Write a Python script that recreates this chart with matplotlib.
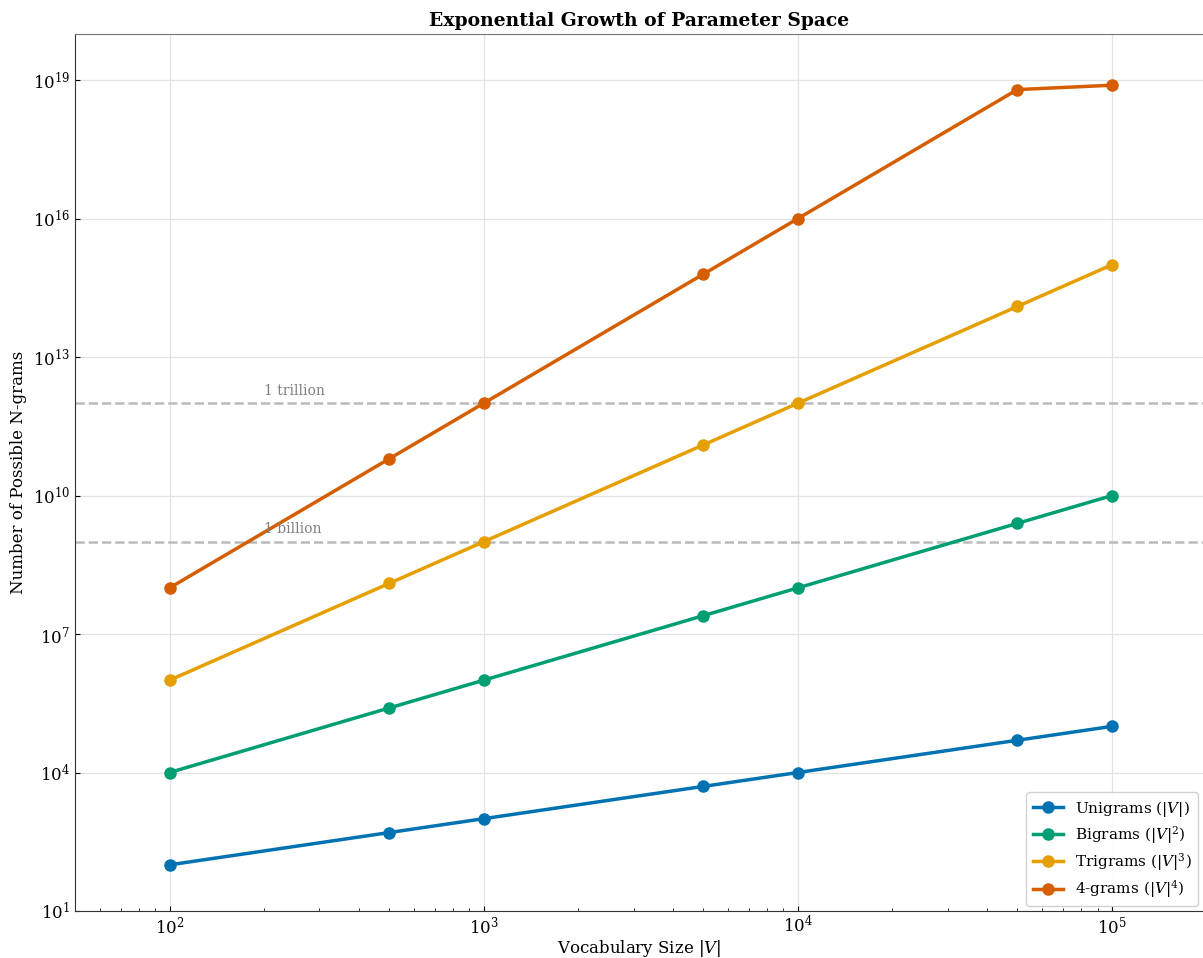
import numpy as np
import matplotlib.pyplot as plt

plt.rcParams['font.family'] = 'DejaVu Serif'
plt.rcParams['mathtext.fontset'] = 'dejavuserif'

vocab = [100, 500, 1000, 5000, 10000, 50000, 100000]
unigrams = [1e2, 5e2, 1e3, 5e3, 1e4, 5e4, 1e5]
bigrams = [1e4, 2.5e5, 1e6, 2.5e7, 1e8, 2.5e9, 1e10]
trigrams = [1e6, 1.25e8, 1e9, 1.25e11, 1e12, 1.25e14, 1e15]
fourgrams = [1e8, 6.25e10, 1e12, 6.25e14, 1e16, 6.25e18, 7.77e18]

labels = ['Unigrams ($|V|$)', 'Bigrams ($|V|^2$)', 'Trigrams ($|V|^3$)', '4-grams ($|V|^4$)']
colors = ['#0072B2', '#009E73', '#E69F00', '#D55E00']

ref_vals = [1e9, 1e12]
ref_text = ['1 billion', '1 trillion']

fig = plt.figure(figsize=(12.03, 9.58), dpi=100)
ax = fig.add_axes([75/1203, 1 - 911/958, 1 - 75/1203, (911 - 34)/958])

for series, lab, c in zip([unigrams, bigrams, trigrams, fourgrams], labels, colors):
    ax.plot(vocab, series, '-o', color=c, lw=2.5, ms=8, label=lab)

for v, t in zip(ref_vals, ref_text):
    ax.axhline(v, color='#bbbbbb', ls='--', lw=1.8, zorder=1)
    ax.text(200, v * 1.3, t, color='gray', fontsize=10, va='bottom')

ax.set_xscale('log')
ax.set_yscale('log')
ax.set_xlim(50, 1.95e5)
ax.set_ylim(10, 1e20)
ax.set_yticks([10.0**k for k in range(1, 20, 3)])
ax.yaxis.set_minor_locator(plt.NullLocator())

ax.grid(True, color='#e3e3e3', lw=0.9)
ax.set_axisbelow(True)
ax.tick_params(direction='in', labelsize=12)
ax.tick_params(axis='x', pad=3)
ax.tick_params(which='minor', direction='in')
ax.spines['top'].set_color('#777777')
ax.spines['right'].set_visible(False)
ax.spines['left'].set_color('#333333')
ax.spines['bottom'].set_color('#333333')

ax.set_xlabel('Vocabulary Size $|V|$', fontsize=12, labelpad=1)
ax.set_ylabel('Number of Possible N-grams', fontsize=12)
ax.set_title('Exponential Growth of Parameter Space', fontsize=13.5, fontweight='bold')
ax.legend(loc='lower right', fontsize=11, framealpha=0.9, edgecolor='#cccccc',
          labelspacing=0.35, bbox_to_anchor=(1.0, 0.0), borderaxespad=0.3)

fig.savefig('out.png', dpi=100)
